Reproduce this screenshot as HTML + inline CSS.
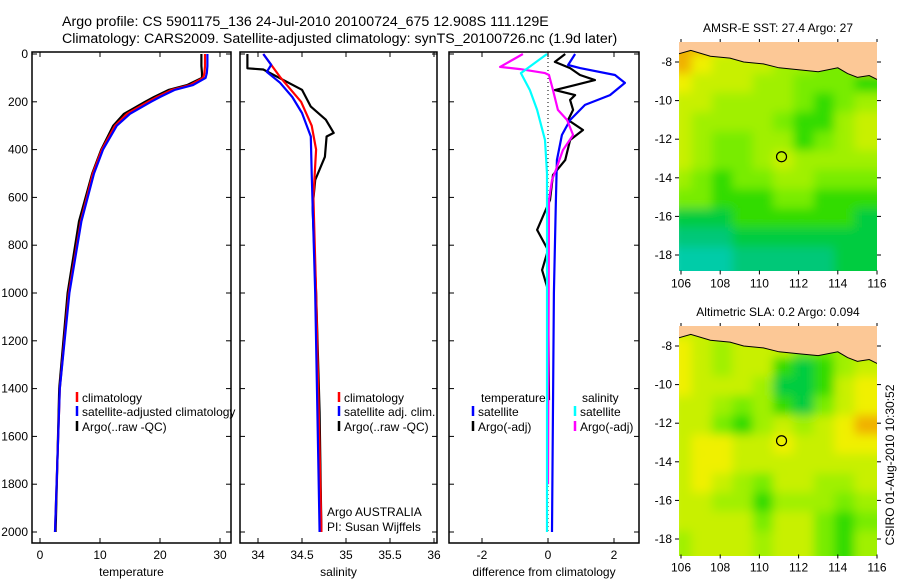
<!DOCTYPE html>
<html><head><meta charset="utf-8"><style>
body{margin:0;background:#fff;}
svg{display:block;font-family:"Liberation Sans",sans-serif;}
</style></head><body>
<svg id="c" width="900" height="580" viewBox="0 0 900 580" xmlns="http://www.w3.org/2000/svg">
<defs>
<filter id="bl" x="-5%" y="-5%" width="110%" height="110%"><feGaussianBlur stdDeviation="5"/></filter>
<clipPath id="m1c"><rect x="679" y="42" width="198" height="229"/></clipPath>
<clipPath id="m2c"><rect x="679" y="326" width="198" height="230"/></clipPath>
</defs>
<text x="62" y="26" font-size="14.2">Argo profile: CS 5901175_136 24-Jul-2010 20100724_675 12.908S 111.129E</text>
<text x="62" y="43" font-size="14.2">Climatology: CARS2009. Satellite-adjusted climatology: synTS_20100726.nc (1.9d later)</text>
<text x="778" y="32" font-size="12" text-anchor="middle">AMSR-E SST: 27.4 Argo: 27</text>
<text x="778" y="316" font-size="12" text-anchor="middle">Altimetric SLA: 0.2 Argo: 0.094</text>
<text transform="translate(894,465) rotate(-90)" font-size="12" text-anchor="middle">CSIRO 01-Aug-2010 10:30:52</text>
<g id="g"></g>
</svg>
<script>
const tDepth=[0,50,80,100,130,150,180,200,250,300,400,500,700,1000,1400,2000];
const tClim=[27.5,27.5,27.4,27.2,25,22,19.5,18,14.5,12.5,10.3,8.8,6.8,4.8,3.3,2.5];
const tSat=[27.9,27.9,27.8,27.6,25.5,22.5,20,18.5,15,12.8,10.5,9,6.9,4.9,3.3,2.5];
const tArgo=[26.9,26.9,27,27,24.5,21.5,19,17.5,14,12.2,10.2,8.7,6.5,4.6,3.2,2.6];
const sClimDepth=[0,96,200,300,400,600,1000,2000];
const sClim=[34.06,34.25,34.49,34.61,34.66,34.63,34.66,34.72];
const sSatDepth=[0,45,75,120,180,247,345,500,1000,2000];
const sSat=[34.06,34.15,34.1,34.25,34.39,34.5,34.6,34.61,34.65,34.7];
const sArgoDepth=[0,60,65,150,220,275,330,345,430,527,640,1000,1500,2000];
const sArgo=[33.88,33.88,34.06,34.5,34.6,34.77,34.86,34.78,34.76,34.65,34.62,34.66,34.7,34.72];
const dSalSatDepth=[0,80,151,234,360,500,2000];
const dSalSat=[-0.03,-0.82,-0.55,-0.33,-0.09,-0.03,-0.03];
const dSalArgoDepth=[0,54,63,80,88,151,234,276,339,402,485,527,611,1800];
const dSalArgo=[-0.76,-1.45,-0.85,-0.09,0.03,0.15,0.3,0.58,0.76,0.45,0.24,0.12,0.03,0];
const dTempSatDepth=[0,46,59,88,121,172,213,276,339,444,611,1000,2000];
const dTempSat=[0.82,0.61,0.97,2.03,2.33,1.88,1.12,0.67,0.42,0.27,0.24,0.18,0.12];
const dTempArgoDepth=[0,33,59,88,109,130,151,172,192,234,276,318,360,444,506,611,736,820,904,987,1448];
const dTempArgo=[0.52,0.21,0.67,0.97,1.42,0.82,0.21,0.82,0.67,0.76,0.61,1.06,0.67,0.52,0.15,0.06,-0.33,0,-0.18,0,0.03];
const depthTicks=[0,200,400,600,800,1000,1200,1400,1600,1800,2000];
const tTicks=[0,10,20,30];
const sTicks=[34,34.5,35,35.5,36];
const sTickLabels=["34","34.5","35","35.5","36"];
const dTicks=[-2,0,2];
const lonTicks=[106,108,110,112,114,116];
const latTicks=[-8,-10,-12,-14,-16,-18];
const sstGrid=[
[9,9,8,7,7,7,6,5,9,9],
[9,8,7,7,7,6,6,5,5,9],
[8,7,7,7,6,6,5,5,5,4],
[7,7,6,6,6,6,5,4,5,6],
[7,6,6,6,6,5,4,4,6,7],
[7,6,5,5,6,6,4,5,6,7],
[7,6,5,5,6,7,6,6,6,6],
[6,5,4,5,5,6,6,5,5,5],
[5,5,4,4,4,5,5,4,4,4],
[3,3,3,4,4,4,4,4,4,3],
[2,2,2,3,3,3,3,3,3,3],
[1,1,1,2,2,2,2,2,3,3]];
const slaGrid=[
[7,7,7,7,7,7,6,6,5,5],
[8,7,6,7,7,7,5,5,6,6],
[8,7,6,7,7,4,3,4,6,7],
[8,7,7,7,6,3,3,4,7,8],
[7,7,6,5,6,4,3,5,7,8],
[7,7,5,4,6,7,6,7,8,9],
[7,8,8,7,7,8,7,7,8,8],
[7,8,8,7,7,7,7,7,7,7],
[7,8,7,6,5,7,7,6,6,7],
[7,7,6,6,4,6,6,6,5,6],
[7,7,7,7,5,7,7,5,4,5],
[6,7,7,7,6,7,7,5,4,6]];
const argoLon=111.129, argoLat=-12.908;

const NS="http://www.w3.org/2000/svg";
const G=document.getElementById('g');
function mk(tag,at,parent){const e=document.createElementNS(NS,tag);for(const k in at)e.setAttribute(k,at[k]);(parent||G).appendChild(e);return e;}
const yD=d=>54+d*0.239;
const panels=[
 {x0:32,x1:231,fx:v=>40+v*6.0,ticks:tTicks,labels:tTicks.map(String),title:"temperature",name:"temperature-panel"},
 {x0:240,x1:437,fx:v=>258+(v-34)*88,ticks:sTicks,labels:sTickLabels,title:"salinity",name:"salinity-panel"},
 {x0:449,x1:639,fx:v=>548+v*33,ticks:dTicks,labels:dTicks.map(String),title:"difference from climatology",name:"difference-panel"}];
panels.forEach((p,i)=>{
 const f=mk('rect',{x:p.x0,y:52,width:p.x1-p.x0,height:491,fill:'none',stroke:'#000','stroke-width':1.5});
 
 
 p.ticks.forEach((t,j)=>{const x=p.fx(t);
  mk('line',{x1:x,x2:x,y1:543,y2:538,stroke:'#000'});mk('line',{x1:x,x2:x,y1:52,y2:57,stroke:'#000'});
  const tx=mk('text',{x:x,y:559,'font-size':12,'text-anchor':'middle'});tx.textContent=p.labels[j];
  
  });
 const at=mk('text',{x:(p.x0+p.x1)/2,y:576,'font-size':12,'text-anchor':'middle'});at.textContent=p.title;
 
 
 depthTicks.forEach(d=>{const y=yD(d);
  mk('line',{x1:p.x0,x2:p.x0+5,y1:y,y2:y,stroke:'#000'});mk('line',{x1:p.x1,x2:p.x1-5,y1:y,y2:y,stroke:'#000'});
  if(i==0){const t=mk('text',{x:28,y:y+4,'font-size':12,'text-anchor':'end'});t.textContent=d;
   
   }});
});
function line(p,ds,vs,col,name,w){
 const pts=ds.map((d,k)=>p.fx(vs[k]).toFixed(1)+','+yD(d).toFixed(1)).join(' ');
 const l=mk('polyline',{points:pts,fill:'none',stroke:col,'stroke-width':w||2.2,'stroke-linejoin':'round'});
 
 }
line(panels[0],tDepth,tArgo,'#000','temp-argo-line');
line(panels[0],tDepth,tClim,'#f00','temp-climatology-line');
line(panels[0],tDepth,tSat,'#00f','temp-satellite-line');
line(panels[1],sArgoDepth,sArgo,'#000','sal-argo-line');
line(panels[1],sClimDepth,sClim,'#f00','sal-climatology-line');
line(panels[1],sSatDepth,sSat,'#00f','sal-satellite-line');
const z=panels[2].fx(0);mk('line',{x1:z,x2:z,y1:54,y2:532,stroke:'#000','stroke-dasharray':'1,3'});
line(panels[2],dTempArgoDepth,dTempArgo,'#000','diff-temp-argo-line');
line(panels[2],dTempSatDepth,dTempSat,'#00f','diff-temp-satellite-line');
line(panels[2],dSalArgoDepth,dSalArgo,'#f0f','diff-sal-argo-line');
line(panels[2],dSalSatDepth,dSalSat,'#0ff','diff-sal-satellite-line');
function leg(x,y,col,txt){mk('line',{x1:x,x2:x,y1:y-10,y2:y,stroke:col,'stroke-width':2.5});
 const t=mk('text',{x:x+5,y:y,'font-size':12});t.textContent=txt;
 
 }
leg(77,402,'#f00','climatology');leg(77,416,'#00f','satellite-adjusted climatology');leg(77,431,'#000','Argo(..raw -QC)');
leg(339,402,'#f00','climatology');leg(339,416,'#00f','satellite adj. clim.');leg(339,431,'#000','Argo(..raw -QC)');
{const t=mk('text',{x:481,y:402,'font-size':12});t.textContent='temperature';
 
 
 const u=mk('text',{x:582,y:402,'font-size':12});u.textContent='salinity';
 
 }
leg(473,416,'#00f','satellite');leg(473,431,'#000','Argo(-adj)');
leg(575,416,'#0ff','satellite');leg(575,431,'#f0f','Argo(-adj)');
{const a=mk('text',{x:327,y:516,'font-size':12});a.textContent='Argo AUSTRALIA';
 
 
 const b=mk('text',{x:327,y:531,'font-size':12});b.textContent='PI: Susan Wijffels';
 
 }
// maps
const pal=['#00d8e0','#00cca8','#00c878','#00cc40','#30dc00','#78ec00','#a0f000','#c8f000','#f0f000','#f0b000','#e08000'];
function map(y0,top,grid,clip,name){
 const lx=v=>681+(v-106)*19.6, ly=v=>y0+(-8-v)*19.3;
 const g=mk('g',{'clip-path':'url(#'+clip+')'});
 
 
 const inner=mk('g',{filter:'url(#bl)'},g);
 grid.forEach((row,r)=>row.forEach((v,c)=>{
  const x0=lx(105.9+c*1.04)-8, y1=ly(-7-r)-8;
  const cell=mk('rect',{x:x0,y:y1,width:20.4+16,height:19.3+16,fill:pal[v]},inner);
  
  
 }));
 const coast=[[105.8,-7.6],[106.5,-7.4],[107.5,-7.7],[108.5,-7.8],[109.2,-8.0],[110.2,-8.1],[111,-8.3],[112,-8.4],[113,-8.5],[114,-8.3],[114.5,-8.6],[115,-8.8],[115.6,-8.7],[116,-8.9],[116.4,-9]];
 let d='M'+lx(105.8)+','+(top-2)+' '+coast.map(p=>'L'+lx(p[0]).toFixed(1)+','+ly(p[1]).toFixed(1)).join(' ')+' L'+lx(116.4)+','+(top-2)+'Z';
 const land=mk('path',{d:d,fill:'#fcc896',stroke:'#000','stroke-width':1},g);
 
 
 const pt=mk('circle',{cx:lx(argoLon),cy:ly(argoLat),r:5,fill:'none',stroke:'#000','stroke-width':1.2});
 
 
 const bottom=ly(-18.8);
 lonTicks.forEach(v=>{const x=lx(v);mk('line',{x1:x,x2:x,y1:top-3,y2:top,stroke:'#000'});mk('line',{x1:x,x2:x,y1:bottom,y2:bottom+4,stroke:'#000'});
  const t=mk('text',{x:x,y:bottom+17,'font-size':12,'text-anchor':'middle'});t.textContent=v;
  
  });
 latTicks.forEach(v=>{const y=ly(v);mk('line',{x1:675,x2:679,y1:y,y2:y,stroke:'#000'});mk('line',{x1:877,x2:881,y1:y,y2:y,stroke:'#000'});
  const t=mk('text',{x:672,y:y+4,'font-size':12,'text-anchor':'end'});t.textContent=v;
  
  });
}
map(62,42,sstGrid,'m1c','sst-map');
map(346,326,slaGrid,'m2c','sla-map');
</script>
</body></html>
